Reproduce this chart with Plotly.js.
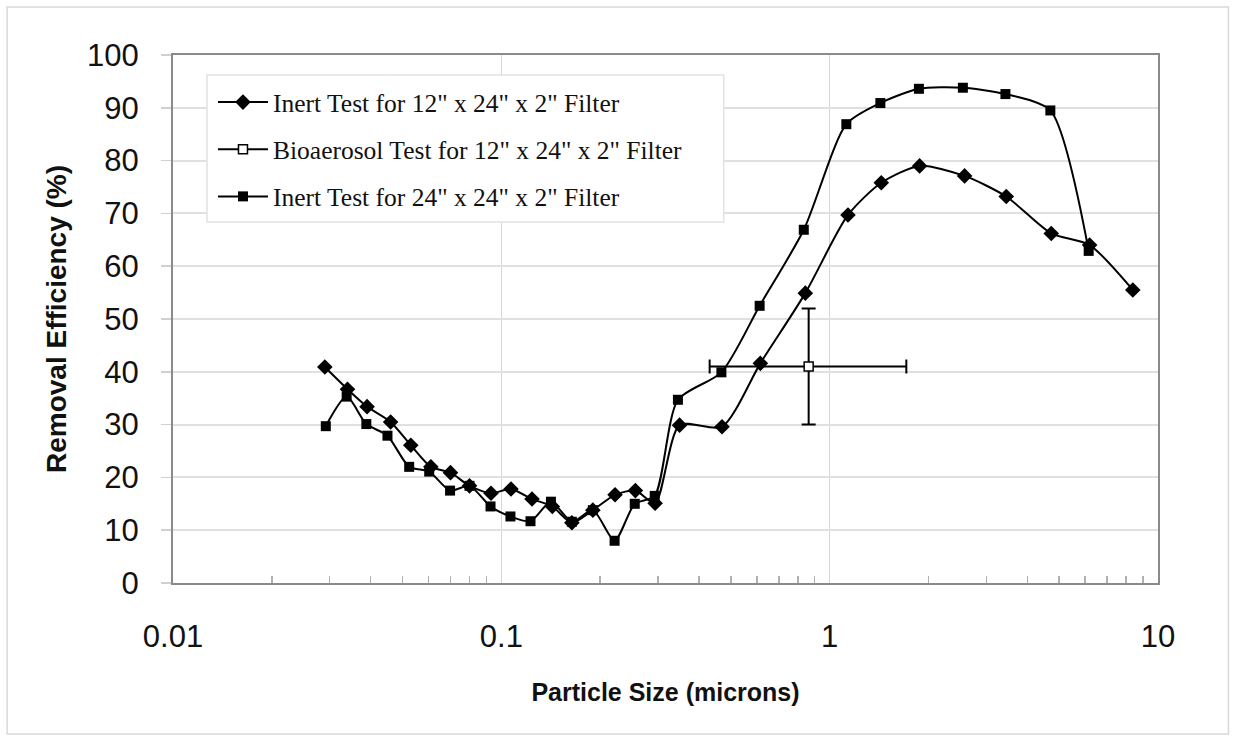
<!DOCTYPE html>
<html>
<head>
<meta charset="utf-8">
<script src="https://cdn.plot.ly/plotly-3.0.1.min.js"></script>
<style>html,body{margin:0;padding:0;background:#fff;}#chart{width:1233px;height:740px;}</style>
</head>
<body>
<div id="chart"></div>
<script>
// Inert Test for 12" x 24" x 2" Filter
var xInert12 = [0.029, 0.034, 0.039, 0.046, 0.053, 0.061, 0.070, 0.080, 0.093, 0.107, 0.124, 0.143, 0.164, 0.190, 0.222, 0.256, 0.294, 0.349, 0.470, 0.615, 0.843, 1.137, 1.436, 1.879, 2.576, 3.45, 4.73, 6.19, 8.38];
var yInert12 = [40.9, 36.7, 33.4, 30.5, 26.1, 22.0, 20.9, 18.4, 17.0, 17.8, 15.9, 14.5, 11.4, 13.8, 16.7, 17.5, 15.1, 29.9, 29.6, 41.6, 54.9, 69.7, 75.8, 79.0, 77.1, 73.2, 66.2, 64.0, 55.5];
// Inert Test for 24" x 24" x 2" Filter
var xInert24 = [0.0292, 0.0338, 0.0388, 0.045, 0.0524, 0.0603, 0.0698, 0.080, 0.0927, 0.1066, 0.1227, 0.1416, 0.164, 0.190, 0.2213, 0.2549, 0.2932, 0.345, 0.468, 0.612, 0.834, 1.124, 1.427, 1.87, 2.545, 3.43, 4.70, 6.15];
var yInert24 = [29.7, 35.3, 30.1, 27.9, 22.0, 21.1, 17.5, 18.4, 14.5, 12.6, 11.7, 15.4, 11.6, 13.8, 8.0, 15.0, 16.5, 34.7, 39.9, 52.5, 66.9, 86.9, 90.9, 93.6, 93.8, 92.6, 89.5, 62.9];
// Bioaerosol Test for 12" x 24" x 2" Filter
var xBio = [0.863];
var yBio = [41.0];
var bioErrYPlus = [11.0];
var bioErrYMinus = [11.0];
var bioErrXPlus = [0.849];
var bioErrXMinus = [0.432];

var names = ['Inert Test for 12" x 24" x 2" Filter', 'Bioaerosol Test for 12" x 24" x 2" Filter', 'Inert Test for 24" x 24" x 2" Filter'];
var yTicks = [0, 10, 20, 30, 40, 50, 60, 70, 80, 90, 100];
var xTicks = [0.01, 0.1, 1, 10];
var xTickText = ['0.01', '0.1', '1', '10'];
var xMinorTicks = [0.02, 0.03, 0.04, 0.05, 0.06, 0.07, 0.08, 0.09,
                   0.2, 0.3, 0.4, 0.5, 0.6, 0.7, 0.8, 0.9,
                   2, 3, 4, 5, 6, 7, 8, 9];

var traces = [
  {x: xInert12, y: yInert12, name: names[0], legendgroup: 'a', type: 'scatter', mode: 'lines+markers',
   line: {color: '#000', width: 2, shape: 'spline', smoothing: 0.7},
   marker: {symbol: 'diamond', size: 12, color: '#000'}},
  {x: xBio, y: yBio, name: names[1], legendgroup: 'b', type: 'scatter', mode: 'lines+markers',
   line: {color: '#000', width: 2},
   marker: {symbol: 'square', size: 9, color: '#fff', line: {color: '#000', width: 1.5}},
   error_y: {type: 'data', array: bioErrYPlus, arrayminus: bioErrYMinus, color: '#000', thickness: 2, width: 7},
   error_x: {type: 'data', array: bioErrXPlus, arrayminus: bioErrXMinus, color: '#000', thickness: 2, width: 7}},
  {x: xInert24, y: yInert24, name: names[2], legendgroup: 'c', type: 'scatter', mode: 'lines+markers',
   line: {color: '#000', width: 2, shape: 'spline', smoothing: 0.7},
   marker: {symbol: 'square', size: 10, color: '#000'}}
];

var layout = {
  width: 1233, height: 740,
  margin: {l: 173, r: 74.5, t: 55, b: 157},
  paper_bgcolor: '#fff', plot_bgcolor: '#fff',
  showlegend: true,
  legend: {x: (213 - 173) / 985.5, y: (583 - 79) / 528, xanchor: 'left', yanchor: 'top',
           bgcolor: 'rgba(0,0,0,0)', borderwidth: 0,
           font: {family: 'Liberation Serif, Times New Roman, serif', size: 25.5, color: '#111'},
           tracegroupgap: 11, itemwidth: 50},
  xaxis: {type: 'log', range: [-2, 1], tickvals: xTicks, ticktext: xTickText,
          showgrid: true, gridcolor: '#d6d6d6', gridwidth: 1.5,
          showline: true, linecolor: '#8a8a8a', linewidth: 2, mirror: true,
          ticks: '', ticklabelstandoff: 25,
          tickfont: {family: 'Liberation Sans, Arial, sans-serif', size: 31, color: '#111'},
          minor: {tickvals: xMinorTicks, ticks: 'inside', ticklen: 7, tickcolor: '#b0b0b0', tickwidth: 1.5, showgrid: false},
          zeroline: false,
          title: {text: 'Particle Size (microns)', standoff: 30,
                  font: {family: 'Liberation Sans, Arial, sans-serif', size: 25, color: '#111', weight: 'bold'}}},
  yaxis: {range: [0, 100], tickvals: yTicks,
          showgrid: true, gridcolor: '#e0e0e0', gridwidth: 2,
          showline: true, linecolor: '#8a8a8a', linewidth: 2, mirror: true,
          ticks: 'outside', ticklen: 10, tickcolor: '#d0d0d0', tickwidth: 1.5, ticklabelstandoff: 16,
          tickfont: {family: 'Liberation Sans, Arial, sans-serif', size: 31, color: '#111'},
          zeroline: false,
          title: {text: 'Removal Efficiency (%)', standoff: 12,
                  font: {family: 'Liberation Sans, Arial, sans-serif', size: 28, color: '#111', weight: 'bold'}}},
  shapes: [
    {type: 'rect', xref: 'paper', yref: 'paper',
     x0: (7 - 173) / 985.5, x1: (1229 - 173) / 985.5,
     y0: (583 - 734) / 528, y1: (583 - 7) / 528,
     line: {color: '#d8d8d8', width: 1.5}, layer: 'below'},
    {type: 'rect', xref: 'paper', yref: 'paper',
     x0: (207 - 173) / 985.5, x1: (724 - 173) / 985.5,
     y0: (583 - 222) / 528, y1: (583 - 75) / 528,
     fillcolor: '#fff', line: {color: '#e2e2e2', width: 1.5}, layer: 'above'}
  ]
};

Plotly.newPlot('chart', traces, layout, {displayModeBar: false, staticPlot: true});
</script>
</body>
</html>
